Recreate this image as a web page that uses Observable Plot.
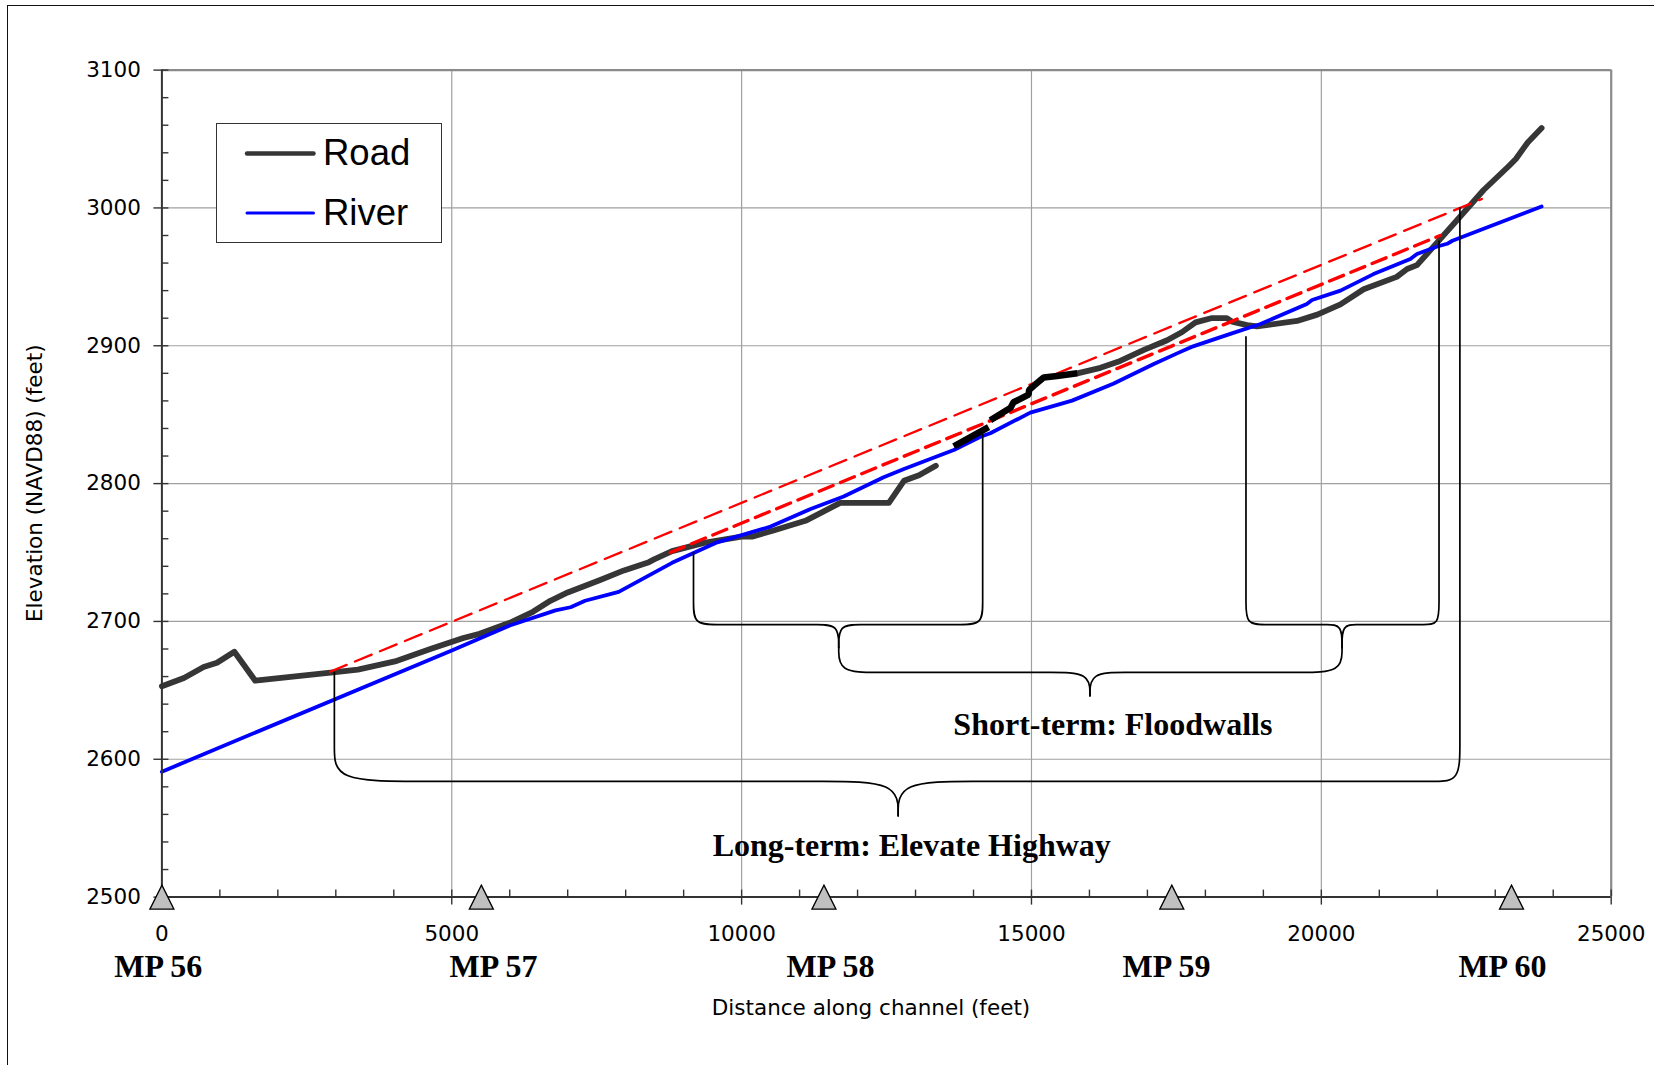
<!DOCTYPE html>
<html>
<head>
<meta charset="utf-8">
<script src="https://cdn.jsdelivr.net/npm/d3@7"></script>
<script src="https://cdn.jsdelivr.net/npm/@observablehq/plot@0.6"></script>
<style>
  html, body { margin: 0; padding: 0; background: #fff; overflow: hidden; }
  #wrap { position: relative; width: 1654px; height: 1065px; overflow: hidden; }
  #chart { position: absolute; left: 0; top: 0; }
  #frame { position: absolute; left: 7px; top: 5px; width: 1720px; height: 1120px;
           border-left: 1.6px solid #111; border-top: 1.6px solid #111; pointer-events: none; }
  #legend { position: absolute; left: 216px; top: 123px; width: 224px; height: 118px;
            border: 1.3px solid #333; background: #fff; }
</style>
</head>
<body>
<div id="wrap"><div id="chart"></div><div id="frame"></div><div id="legend"></div></div>
<script>
// ---------------- data ----------------
const xTicks = [0, 5000, 10000, 15000, 20000, 25000];
const yTicks = [2500, 2600, 2700, 2800, 2900, 3000, 3100];

const seriesNames = ["Road", "River"];

// Road, west part (gray)
const roadWestX = [0, 380, 720, 950, 1250, 1610, 2950, 3380, 4020, 4630, 5200, 5480, 6000, 6400, 6700, 7000, 7560, 7970, 8400, 8490, 8800, 9350, 10000, 10180, 10550, 11100, 11700, 12540, 12800, 13060, 13350];
const roadWestY = [2653, 2659, 2667, 2670, 2678, 2657, 2663, 2665, 2671, 2680, 2688, 2691, 2699, 2707, 2715, 2721, 2730, 2737, 2743, 2745, 2751, 2757, 2761.5, 2761.5, 2766, 2773, 2786, 2786, 2802, 2806, 2813];

// Road, black stepped part (null = break)
const roadWallX = [13660, 14260, 14275, 14290, 14640, 14690, 14950, 14960, 15040, 15210, 15440, 15790];
const roadWallY = [2827, 2841, null, 2846, 2855, 2859, 2864.5, 2868, 2871, 2877, 2878, 2880];

// Road, east part (gray)
const roadEastX = [15790, 16190, 16530, 16940, 17340, 17600, 17830, 18100, 18370, 18460, 18720, 18890, 19580, 19930, 20330, 20730, 21300, 21480, 21650, 22000, 22400, 22800, 23240, 23355, 23560, 23800];
const roadEastY = [2880, 2884, 2889, 2897, 2904, 2910, 2917, 2920, 2920, 2917.5, 2915, 2914, 2918, 2922.6, 2930, 2941, 2950, 2955.7, 2958.5, 2975, 2994, 3013, 3030.6, 3035.5, 3047.5, 3058];

// River
const riverX = [0, 5000, 6000, 6790, 7050, 7300, 7880, 8800, 9580, 10500, 11190, 11760, 12450, 12800, 13660, 14120, 14290, 14980, 15700, 16410, 17110, 17550, 17750, 18430, 18950, 19750, 19840, 20330, 20900, 21535, 21650, 22000, 22170, 22260, 23800];
const riverY = [2591, 2679, 2697, 2708, 2710.3, 2715, 2721.5, 2742.5, 2757.4, 2768.8, 2781.6, 2790.6, 2804.6, 2810.6, 2824.4, 2834, 2836.5, 2851.5, 2860.2, 2872.5, 2886.8, 2895.2, 2899, 2908.6, 2915.8, 2930.3, 2933.2, 2940, 2952, 2963, 2966.6, 2972, 2974, 2976.2, 3001];

// Red dashed grade lines
const redUpperX = [2900, 22770];
const redUpperY = [2663.5, 3006.5];
const redLowerX = [8770, 22050];
const redLowerY = [2750, 2980];

// Mile posts
const mpNames = ["MP 56", "MP 57", "MP 58", "MP 59", "MP 60"];
const mpX = [0, 5510, 11420, 17420, 23280];
const mpLabelX = [-64, 5721, 11533, 17329, 23123];

// Brace outlines (key points, smoothed with a basis curve)
const braceLongLeft  = [[2975,2663],[2975,2632],[2975,2608],[2975,2584],[4405,2584],[5835,2584],[10120,2584],[11410,2584],[12700,2584],[12700,2559]];
const braceLongRight = [[12700,2559],[12700,2584],[13990,2584],[15280,2584],[21530,2584],[21960,2584],[22390,2584],[22390,2611],[22390,2638],[22390,3000]];
const braceSLLeft    = [[9170,2750],[9170,2729.7],[9170,2713.7],[9170,2697.7],[9578,2697.7],[9986,2697.7],[10929,2697.7],[11302,2697.7],[11675,2697.7],[11675,2681]];
const braceSLRight   = [[11675,2681],[11675,2697.7],[12049,2697.7],[12423,2697.7],[13390,2697.7],[13774,2697.7],[14158,2697.7],[14158,2713.7],[14158,2729.7],[14158,2836]];
const braceSRLeft    = [[18700,2906.5],[18700,2729.7],[18700,2713.7],[18700,2697.7],[19030,2697.7],[19360,2697.7],[19847,2697.7],[20102,2697.7],[20357,2697.7],[20357,2681]];
const braceSRRight   = [[20357,2681],[20357,2697.7],[20603,2697.7],[20849,2697.7],[21490,2697.7],[21760,2697.7],[22030,2697.7],[22030,2713.7],[22030,2729.7],[22030,2976]];
const braceSBLeft    = [[11675,2681],[11675,2663],[12337,2663],[13000,2663],[14643,2663],[15326,2663],[16009,2663],[16009,2646]];
const braceSBRight   = [[16009,2646],[16009,2663],[16620,2663],[17231,2663],[18919,2663],[19638,2663],[20357,2663],[20357,2681]];

const noteTexts = ["Short-term: Floodwalls", "Long-term: Elevate Highway"];
const noteX = [16404, 12934];
const noteY = [2617.6, 2529.8];

const xTitle = "Distance along channel (feet)";
const yTitle = "Elevation (NAVD88) (feet)";

// ---------------- build ----------------
const W = 1654, H = 1065;
const mL = 161.4, mR = 43.3, mT = 69.6, mB = 168.4;
const innerW = W - mL - mR, innerH = H - mT - mB;

const pts = (xs, ys) => xs.map((x, i) => ({x, y: ys[i]}));
const roadWest = pts(roadWestX, roadWestY);
const roadWall = pts(roadWallX, roadWallY);
const roadEast = pts(roadEastX, roadEastY);
const river = pts(riverX, riverY);
const redUpper = pts(redUpperX, redUpperY);
const redLower = pts(redLowerX, redLowerY);
const braces = [braceLongLeft, braceLongRight, braceSLLeft, braceSLRight, braceSRLeft, braceSRRight, braceSBLeft, braceSBRight]
  .flatMap((b, i) => b.map(([x, y]) => ({x, y, piece: i})));
const mps = mpNames.map((name, i) => ({name, x: mpX[i], lx: mpLabelX[i]}));
const notes = noteTexts.map((t, i) => ({t, x: noteX[i], y: noteY[i]}));

const yMinor = d3.range(2500, 3101, 20);
const xMinor = d3.range(0, 25001, 1000);
const fmt = d3.format("d");

const triangle = {
  draw(ctx, size) {
    const r = Math.sqrt(size / Math.PI);
    ctx.moveTo(0, -r); ctx.lineTo(r, r); ctx.lineTo(-r, r); ctx.closePath();
  }
};

const ROAD = "#363636", RIVER = "#0000ff";
const serif = "'Liberation Serif', 'Times New Roman', serif";

const chart = Plot.plot({
  width: W, height: H,
  marginLeft: mL, marginRight: mR, marginTop: mT, marginBottom: mB,
  x: {domain: [0, 25000]},
  y: {domain: [2500, 3100]},
  style: {background: "white", fontFamily: "'DejaVu Sans', sans-serif", fontSize: "21.5px", color: "black", overflow: "visible"},
  marks: [
    Plot.gridX(xTicks.slice(1, -1), {stroke: "#a0a0a0", strokeOpacity: 1, strokeWidth: 1.2}),
    Plot.gridY(yTicks.slice(1, -1), {stroke: "#a0a0a0", strokeOpacity: 1, strokeWidth: 1.2}),
    Plot.ruleX([25000], {stroke: "#8a8a8a", strokeWidth: 2.2}),
    Plot.ruleY([3100], {stroke: "#8a8a8a", strokeWidth: 2.2}),

    Plot.line(roadWest, {x: "x", y: "y", stroke: ROAD, strokeWidth: 5.8, strokeLinejoin: "round", strokeLinecap: "round"}),
    Plot.line(roadEast, {x: "x", y: "y", stroke: ROAD, strokeWidth: 5.8, strokeLinejoin: "round", strokeLinecap: "round"}),
    Plot.line(river, {x: "x", y: "y", stroke: RIVER, strokeWidth: 3.8, strokeLinejoin: "round", strokeLinecap: "round"}),
    Plot.line(redUpper, {x: "x", y: "y", stroke: "#ff0000", strokeWidth: 2.3, strokeDasharray: "18,9"}),
    Plot.line(redLower, {x: "x", y: "y", stroke: "#ff0000", strokeWidth: 3.4, strokeDasharray: "15,8"}),
    Plot.line(roadWall, {x: "x", y: "y", stroke: "#000", strokeWidth: 6.5, strokeLinejoin: "miter", strokeLinecap: "butt"}),

    Plot.line(braces, {x: "x", y: "y", z: "piece", curve: "basis", stroke: "#000", strokeWidth: 1.7}),

    Plot.text(notes, {x: "x", y: "y", text: "t", lineAnchor: "bottom", textAnchor: "middle",
      fontFamily: serif, fontWeight: "bold", fontSize: 32, fill: "#000"}),

    // axes
    Plot.ruleX([0], {stroke: "#333", strokeWidth: 2}),
    Plot.ruleY([2500], {stroke: "#333", strokeWidth: 2}),
    Plot.tickY(yMinor, {y: d => d, insetRight: innerW - 7, stroke: "#333", strokeWidth: 1.4}),
    Plot.tickX(xMinor, {x: d => d, insetTop: innerH - 7, stroke: "#333", strokeWidth: 1.4}),
    Plot.axisY(yTicks, {anchor: "left", tickSize: 8, tickPadding: 13, tickFormat: fmt, label: null, stroke: "#333", strokeWidth: 1.4, fill: "#000", fontSize: 21.5}),
    Plot.axisX(xTicks, {anchor: "bottom", tickSize: 8, tickPadding: 21, tickFormat: fmt, label: null, stroke: "#333", strokeWidth: 1.4, fill: "#000", fontSize: 21.5}),

    Plot.text([xTitle], {x: () => 12232, y: () => 2500, dy: 117.9, lineAnchor: "bottom", textAnchor: "middle", fontSize: 21.5, fill: "#000"}),
    Plot.text([yTitle], {frameAnchor: "left", y: () => 2800.3, dx: -119.4, rotate: -90, lineAnchor: "bottom", textAnchor: "middle", fontSize: 21.5, fill: "#000"}),

    Plot.dot(mps, {x: "x", y: () => 2500, symbol: triangle, r: 12, fill: "#c0c0c0", stroke: "#000", strokeWidth: 1.3}),
    Plot.text(mps, {x: "lx", y: () => 2500, text: "name", dy: 79.4, lineAnchor: "bottom", textAnchor: "middle",
      fontFamily: serif, fontWeight: "bold", fontSize: 32, fill: "#000"})
  ]
});
document.getElementById("chart").appendChild(chart);

// legend
const legendStyles = [
  {stroke: ROAD, width: 4.5, y: 29.4},
  {stroke: RIVER, width: 3, y: 89}
];
const ns = "http://www.w3.org/2000/svg";
const lsvg = document.createElementNS(ns, "svg");
lsvg.setAttribute("width", 224); lsvg.setAttribute("height", 118);
seriesNames.forEach((name, i) => {
  const s = legendStyles[i];
  const ln = document.createElementNS(ns, "line");
  ln.setAttribute("x1", 30); ln.setAttribute("x2", 96.5);
  ln.setAttribute("y1", s.y); ln.setAttribute("y2", s.y);
  ln.setAttribute("stroke", s.stroke); ln.setAttribute("stroke-width", s.width);
  ln.setAttribute("stroke-linecap", "round");
  lsvg.appendChild(ln);
  const tx = document.createElementNS(ns, "text");
  tx.setAttribute("x", 106); tx.setAttribute("y", s.y + 12);
  tx.setAttribute("font-family", "'Liberation Sans', Arial, sans-serif");
  tx.setAttribute("font-size", "36.5px");
  tx.setAttribute("fill", "#000");
  tx.textContent = name;
  lsvg.appendChild(tx);
});
document.getElementById("legend").appendChild(lsvg);
</script>
</body>
</html>
